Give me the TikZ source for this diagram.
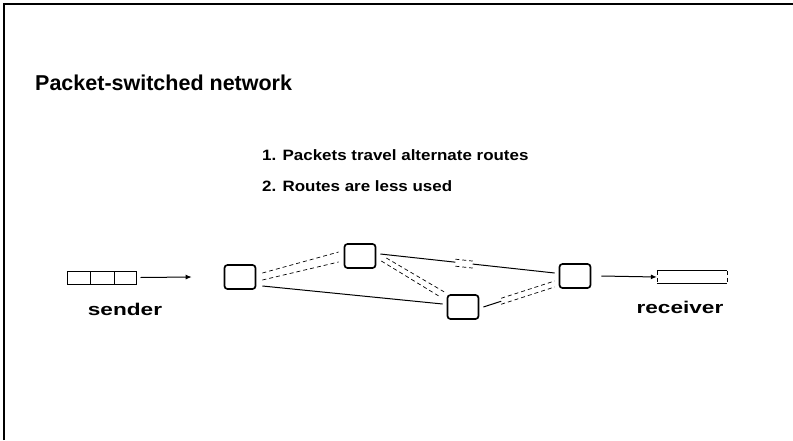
\documentclass[tikz,border=0pt]{standalone}
\usepackage{fontspec}
\setmainfont{Liberation Sans}
\usetikzlibrary{arrows.meta,calc}
\begin{document}
\begin{tikzpicture}[x=1pt,y=-1pt,
  router/.style={draw,line width=1.7pt,rounded corners=3pt,minimum width=31pt,minimum height=24pt,inner sep=0pt},
  link/.style={line width=1pt},
  pkt/.style={dash pattern=on 4pt off 3pt,line width=0.7pt},
  feed/.style={line width=1pt,-{Latex[length=6pt,width=5pt]}},
  lbl/.style={font=\bfseries\fontsize{15}{18}\selectfont\addfontfeature{FakeStretch=1.13},inner sep=0pt},
  tag/.style={font=\bfseries\fontsize{17}{20}\selectfont\addfontfeature{FakeStretch=1.33},inner sep=0pt}
]
\useasboundingbox (0,0) rectangle (793,440);
\draw[line width=1.2pt] (4,440) -- (4,4) -- (793,4);
% title and list
\node[anchor=base west,inner sep=0pt,font=\bfseries\fontsize{21.5}{24}\selectfont] (title) at (35,90) {Packet-switched network};
\node[anchor=base west,lbl] (l1) at (262,160) {1. Packets travel alternate routes};
\node[anchor=base west,lbl] (l2) at (262,191) {2. Routes are less used};
% sender
\node[draw,line width=1pt,minimum width=69pt,minimum height=13pt,inner sep=0pt] (snd) at (101.5,277.5) {};
\draw[line width=0.8pt] (90,271) -- (90,284) (114,271) -- (114,284);
\node[tag] (sl) at (125,309) {sender};
% routers
\node[router] (A) at (240,277) {};
\node[router] (B) at (360,256) {};
\node[router] (C) at (463,307) {};
\node[router] (D) at (575,276) {};
% receiver
\node[minimum width=70pt,minimum height=12pt,inner sep=0pt] (rcv) at (692,277) {};
\draw[line width=1pt] (rcv.north west) -- (rcv.north east) (rcv.south west) -- (rcv.south east);
\draw[pkt,line width=0.6pt] (rcv.north west) -- (rcv.south west) (rcv.north east) -- (rcv.south east);
\node[tag] (rl) at (680,307) {receiver};
% feed arrows
\draw[feed] ([xshift=4pt]snd.east) -- ([xshift=-32pt]A.west);
\draw[feed] ([xshift=10pt]D.east) -- (rcv.west);
% link A-C (solid)
\draw[link] ([xshift=6pt,yshift=-9pt]A.east) -- ([xshift=-4pt,yshift=3pt]C.west);
% link A-B (packets in transit, dashed pair)
\draw[pkt] ([xshift=6pt,yshift=4pt]A.east) -- ([xshift=-5pt,yshift=4pt]B.west);
\draw[pkt] ([xshift=6pt,yshift=-3pt]A.east) -- ([xshift=-5pt,yshift=-6pt]B.west);
% link B-D (solid with a packet)
\coordinate (bd1) at ($([xshift=4pt,yshift=2pt]B.east)!0.43!([xshift=-4pt,yshift=3pt]D.west)$);
\coordinate (bd2) at ($([xshift=4pt,yshift=2pt]B.east)!0.53!([xshift=-4pt,yshift=3pt]D.west)$);
\draw[link] ([xshift=4pt,yshift=2pt]B.east) -- (bd1);
\draw[link] (bd2) -- ([xshift=-4pt,yshift=3pt]D.west);
\draw[pkt] ([yshift=3pt]bd1) -- ([yshift=3pt]bd2) ([yshift=-4pt]bd1) -- ([yshift=-4pt]bd2);
% link B-C (dashed)
\draw[pkt] ([xshift=5pt,yshift=-5pt]B.east) -- ([xshift=-6pt,yshift=-3pt]C.north west);
\draw[pkt] ([xshift=10pt,yshift=-2pt]B.east) -- ([xshift=-2pt,yshift=2pt]C.north west);
% link C-D (short solid then dashed pair)
\coordinate (cd1) at ($([xshift=4pt]C.east)!0.25!([xshift=-4pt,yshift=-8pt]D.west)$);
\draw[link] ([xshift=4pt]C.east) -- (cd1);
\draw[pkt] ([yshift=3pt]cd1) -- ([xshift=-4pt,yshift=-5pt]D.west);
\draw[pkt] ([yshift=-3pt]cd1) -- ([xshift=-4pt,yshift=-11pt]D.west);
\end{tikzpicture}
\end{document}
